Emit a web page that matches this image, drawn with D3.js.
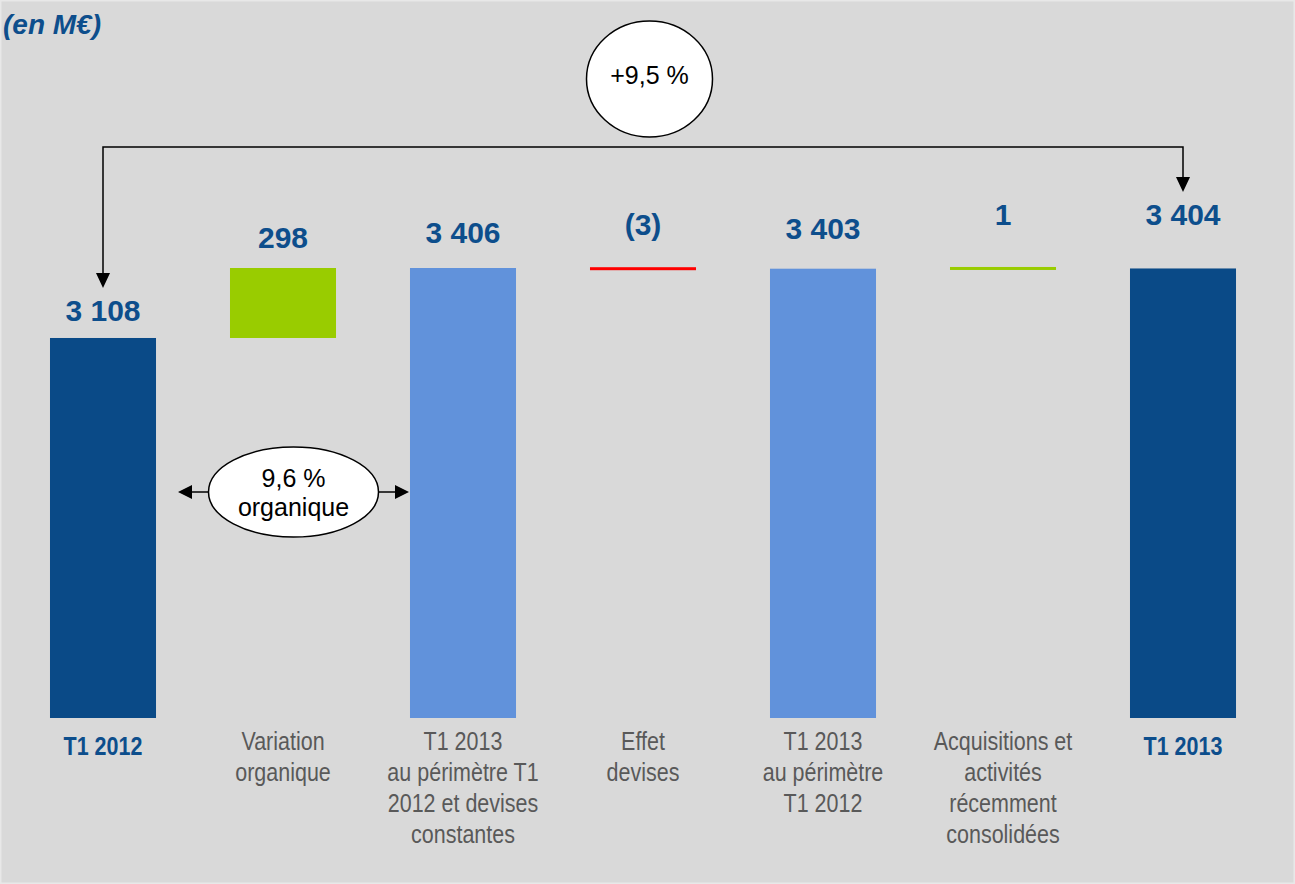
<!DOCTYPE html>
<html>
<head>
<meta charset="utf-8">
<script src="https://cdn.jsdelivr.net/npm/d3@7"></script>
<style>
  html, body { margin: 0; padding: 0; background: #d9d9d9; }
  svg { display: block; }
</style>
</head>
<body>
<div id="chart"></div>
<script>
// Waterfall T1 2012 -> T1 2013 (en M€)

const categories = [
  ["T1 2012"],
  ["Variation", "organique"],
  ["T1 2013", "au périmètre T1", "2012 et devises", "constantes"],
  ["Effet", "devises"],
  ["T1 2013", "au périmètre", "T1 2012"],
  ["Acquisitions et", "activités", "récemment", "consolidées"],
  ["T1 2013"]
];
const kinds = ["total", "delta", "subtotal", "delta", "subtotal", "delta", "total"];
const values = [3108, 298, 3406, -3, 3403, 1, 3404];
const valueLabels = ["3 108", "298", "3 406", "(3)", "3 403", "1", "3 404"];
const growthLabel = "+9,5 %";
const organicLabel = ["9,6 %", "organique"];
const unitLabel = "(en M€)";

const W = 1295, H = 884;
const baseY = 718;
const axisBase = 1490; // broken axis: bars start at this value

const colors = {
  total: "#0a4a87",
  subtotal: "#6192db",
  up: "#99cc00",
  down: "#ff0000",
  valueText: "#0d4e8c",
  catText: "#595959"
};
// vertical lift of each value label above its mark (px)
const labelLift = [17, 20, 25, 33, 30, 43, 43];

const svg = d3.select("#chart").append("svg")
  .attr("width", W)
  .attr("height", H);

svg.append("rect")
  .attr("x", 0.5).attr("y", 0.5)
  .attr("width", W - 1).attr("height", H - 1)
  .attr("fill", "#d9d9d9")
  .attr("stroke", "#e8e8e8")
  .attr("stroke-width", 2);

const x = d3.scaleBand()
  .domain(d3.range(categories.length))
  .range([13, 1273])
  .paddingInner(0.411)
  .paddingOuter(0.2055);

const y = d3.scaleLinear()
  .domain([axisBase, 3406])
  .range([baseY, 268]);

// compute running start/end for each step
let running = 0;
const steps = values.map((v, i) => {
  let start, end;
  if (kinds[i] === "delta") {
    start = running;
    end = running + v;
  } else {
    start = axisBase;
    end = v;
  }
  running = end;
  return { i, kind: kinds[i], value: v, start, end };
});

const fillOf = d => d.kind === "total" ? colors.total
  : d.kind === "subtotal" ? colors.subtotal
  : d.value >= 0 ? colors.up : colors.down;

// bars
svg.selectAll(".bar")
  .data(steps)
  .join("rect")
  .attr("class", "bar")
  .attr("x", d => x(d.i))
  .attr("width", x.bandwidth())
  .attr("y", d => {
    const top = y(Math.max(d.start, d.end));
    const h = Math.abs(y(d.start) - y(d.end));
    return h < 3 ? y(d.end) - 1.5 : top;
  })
  .attr("height", d => Math.max(3, Math.abs(y(d.start) - y(d.end))))
  .attr("fill", fillOf);

// value labels
svg.selectAll(".val")
  .data(steps)
  .join("text")
  .attr("class", "val")
  .attr("x", d => x(d.i) + x.bandwidth() / 2)
  .attr("y", d => y(Math.max(d.start, d.end)) - labelLift[d.i])
  .attr("text-anchor", "middle")
  .attr("font-family", "'Liberation Sans', Arial, sans-serif")
  .attr("font-weight", "bold")
  .attr("font-size", "30px")
  .attr("fill", colors.valueText)
  .text((d, i) => valueLabels[i]);

// category labels (condensed look via horizontal scale)
const catG = svg.selectAll(".cat")
  .data(steps)
  .join("g")
  .attr("class", "cat")
  .attr("transform", d => `translate(${x(d.i) + x.bandwidth() / 2},${d.kind === "total" ? 755 : 750}) scale(0.86,1)`);

catG.append("text")
  .attr("text-anchor", "middle")
  .attr("font-family", "'Liberation Sans', Arial, sans-serif")
  .attr("font-size", "25px")
  .attr("font-weight", d => d.kind === "total" ? "bold" : "normal")
  .attr("fill", d => d.kind === "total" ? colors.valueText : colors.catText)
  .selectAll("tspan")
  .data(d => categories[d.i])
  .join("tspan")
  .attr("x", 0)
  .attr("dy", (d, j) => j === 0 ? 0 : 31)
  .text(d => d);

// arrowhead helper (tip at tx,ty pointing in direction)
function arrowHead(tx, ty, dir, len = 15, half = 7) {
  let pts;
  if (dir === "down") pts = [[tx, ty], [tx - half, ty - len], [tx + half, ty - len]];
  if (dir === "left") pts = [[tx, ty], [tx + len, ty - half], [tx + len, ty + half]];
  if (dir === "right") pts = [[tx, ty], [tx - len, ty - half], [tx - len, ty + half]];
  svg.append("path")
    .attr("d", d3.line()(pts) + "Z")
    .attr("fill", "#000");
}

// overall growth connector
const cx0 = x(0) + x.bandwidth() / 2;
const cx6 = x(6) + x.bandwidth() / 2;
const connY = 147;
const tipL = 288, tipR = 192;
svg.append("path")
  .attr("d", d3.line()([[cx0, tipL - 14], [cx0, connY], [cx6, connY], [cx6, tipR - 14]]))
  .attr("fill", "none")
  .attr("stroke", "#000")
  .attr("stroke-width", 1.5);
arrowHead(cx0, tipL, "down");
arrowHead(cx6, tipR, "down");

const ex = 649.5, ey = 79;
svg.append("ellipse")
  .attr("cx", ex).attr("cy", ey)
  .attr("rx", 63).attr("ry", 58)
  .attr("fill", "#fff")
  .attr("stroke", "#000")
  .attr("stroke-width", 1.5);
svg.append("text")
  .attr("x", ex).attr("y", 84)
  .attr("text-anchor", "middle")
  .attr("font-family", "'Liberation Sans', Arial, sans-serif")
  .attr("font-size", "25px")
  .attr("fill", "#000")
  .text(growthLabel);

// organic growth double arrow
const oy = 492;
const oLeft = x(0) + x.bandwidth() + 22;
const oRight = x(2) - 1;
const ocx = (oLeft + oRight) / 2;
svg.append("line")
  .attr("x1", oLeft + 10).attr("x2", oRight - 10)
  .attr("y1", oy).attr("y2", oy)
  .attr("stroke", "#000").attr("stroke-width", 1.5);
arrowHead(oLeft, oy, "left", 14, 7);
arrowHead(oRight, oy, "right", 14, 7);
svg.append("ellipse")
  .attr("cx", ocx).attr("cy", oy)
  .attr("rx", 85).attr("ry", 45)
  .attr("fill", "#fff")
  .attr("stroke", "#000")
  .attr("stroke-width", 1.5);
svg.append("text")
  .attr("x", ocx).attr("y", 487)
  .attr("text-anchor", "middle")
  .attr("font-family", "'Liberation Sans', Arial, sans-serif")
  .attr("font-size", "25px")
  .attr("fill", "#000")
  .selectAll("tspan")
  .data(organicLabel)
  .join("tspan")
  .attr("x", ocx)
  .attr("dy", (d, j) => j === 0 ? 0 : 29)
  .text(d => d);

// unit label
svg.append("text")
  .attr("x", 3).attr("y", 34)
  .attr("font-family", "'Liberation Sans', Arial, sans-serif")
  .attr("font-weight", "bold")
  .attr("font-style", "italic")
  .attr("font-size", "28px")
  .attr("fill", colors.valueText)
  .text(unitLabel);
</script>
</body>
</html>
